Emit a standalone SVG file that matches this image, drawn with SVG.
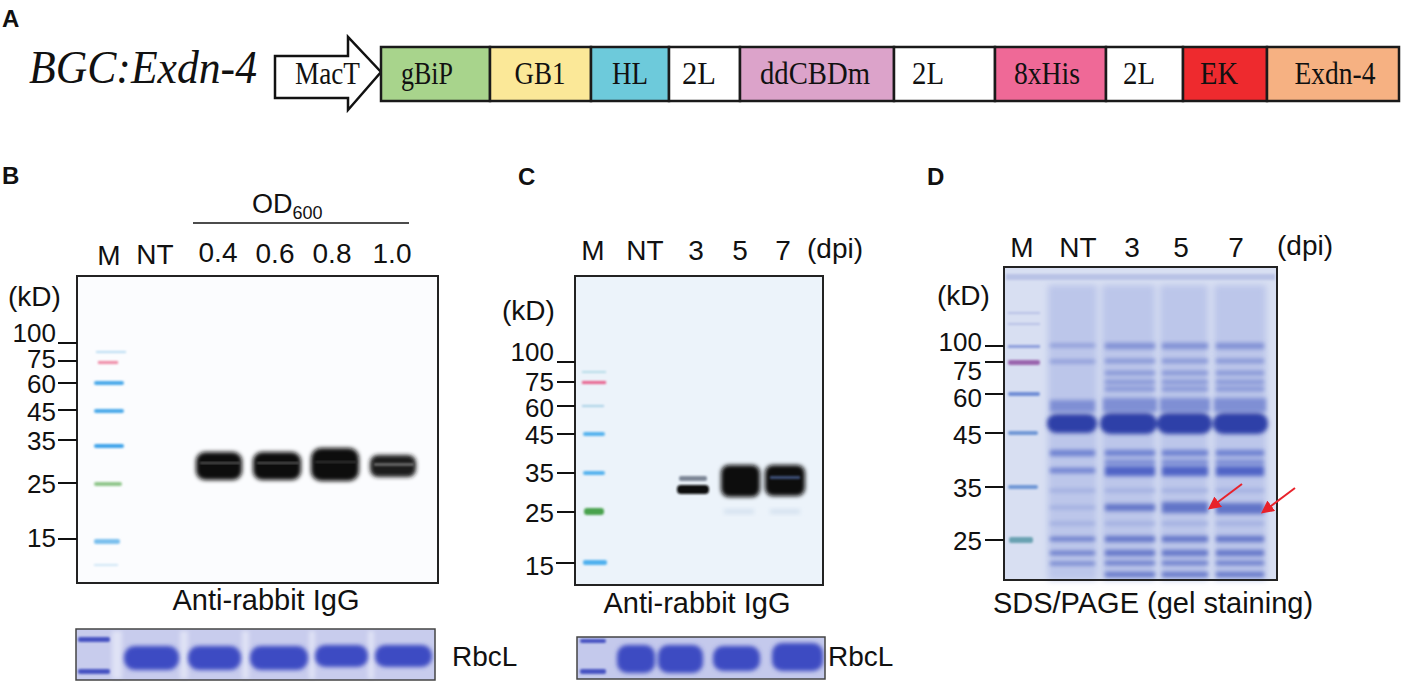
<svg xmlns="http://www.w3.org/2000/svg" width="1403" height="682" viewBox="0 0 1403 682">
<style>
.sans{font-family:"Liberation Sans",Arial,sans-serif;fill:#111}
.serif{font-family:"Liberation Serif","Times New Roman",serif;fill:#111}
.pl{font-family:"Liberation Sans",Arial,sans-serif;font-weight:bold;font-size:24px;fill:#111}
.lab{font-size:28px}
.tk{font-size:26px;text-anchor:end}
.box{stroke:#1a1a1a;stroke-width:2.5}
.bt{font-size:31px;text-anchor:middle}
.tick{stroke:#111;stroke-width:2}
.frame{stroke:#222;stroke-width:2}
</style>
<defs>
<filter id="b1" x="-20%" y="-50%" width="140%" height="200%"><feGaussianBlur stdDeviation="1"/></filter>
<filter id="b2" x="-20%" y="-50%" width="140%" height="200%"><feGaussianBlur stdDeviation="2"/></filter>
<filter id="b3" x="-20%" y="-50%" width="140%" height="200%"><feGaussianBlur stdDeviation="3"/></filter>
<marker id="ah" viewBox="0 0 10 10" refX="8" refY="5" markerWidth="6.5" markerHeight="6.5" orient="auto"><path d="M0,0 L10,5 L0,10 z" fill="#e8222b"/></marker>
</defs>

<!-- Panel A -->
<g id="panel-a">
<text class="pl" x="2" y="27">A</text>
<text class="serif" x="29" y="83" font-size="46" font-style="italic" textLength="228" lengthAdjust="spacingAndGlyphs">BGC:Exdn-4</text>
<g id="mact">
<polygon points="275,56 348,56 348,37 381,72 348,110 348,98 275,98" fill="#fff" stroke="#111" stroke-width="2.5" stroke-linejoin="miter"/>
<text class="serif" x="295" y="84" font-size="31" textLength="65" lengthAdjust="spacingAndGlyphs">MacT</text>
</g>
<g id="gbip"><rect class="box" x="381" y="47" width="109" height="54" fill="#a8d48c"/><text class="serif bt" x="427" y="84" textLength="52" lengthAdjust="spacingAndGlyphs">gBiP</text></g>
<g id="gb1"><rect class="box" x="490" y="47" width="101" height="54" fill="#fbe898"/><text class="serif bt" x="540" y="84" textLength="51" lengthAdjust="spacingAndGlyphs">GB1</text></g>
<g id="hl"><rect class="box" x="591" y="47" width="78" height="54" fill="#6dcadb"/><text class="serif bt" x="630" y="84" textLength="36" lengthAdjust="spacingAndGlyphs">HL</text></g>
<g id="l2a"><rect class="box" x="669" y="47" width="71" height="54" fill="#fff"/><text class="serif" x="682" y="84" font-size="31" textLength="34" lengthAdjust="spacingAndGlyphs">2L</text></g>
<g id="ddcbdm"><rect class="box" x="740" y="47" width="154" height="54" fill="#dca3ca"/><text class="serif bt" x="815" y="84" textLength="110" lengthAdjust="spacingAndGlyphs">ddCBDm</text></g>
<g id="l2b"><rect class="box" x="894" y="47" width="101" height="54" fill="#fff"/><text class="serif" x="912" y="84" font-size="31" textLength="32" lengthAdjust="spacingAndGlyphs">2L</text></g>
<g id="his"><rect class="box" x="995" y="47" width="111" height="54" fill="#ef6997"/><text class="serif bt" x="1047" y="84" textLength="66" lengthAdjust="spacingAndGlyphs">8xHis</text></g>
<g id="l2c"><rect class="box" x="1106" y="47" width="77" height="54" fill="#fff"/><text class="serif" x="1123" y="84" font-size="31" textLength="32" lengthAdjust="spacingAndGlyphs">2L</text></g>
<g id="ek"><rect class="box" x="1183" y="47" width="84" height="54" fill="#ee2a2e"/><text class="serif bt" x="1219" y="84" textLength="38" lengthAdjust="spacingAndGlyphs">EK</text></g>
<g id="exdn"><rect class="box" x="1267" y="47" width="132" height="54" fill="#f6b182"/><text class="serif bt" x="1335" y="84" textLength="81" lengthAdjust="spacingAndGlyphs">Exdn-4</text></g>
</g>

<!-- Panel B -->
<g id="panel-b">
<text class="pl" x="2" y="184">B</text>
<text class="sans" x="252" y="213" font-size="27">OD<tspan font-size="18" dy="6">600</tspan></text>
<line x1="193" y1="223" x2="409" y2="223" stroke="#111" stroke-width="1.5"/>
<g class="sans lab" text-anchor="middle">
<text x="109" y="265">M</text><text x="155" y="264">NT</text>
<text x="218" y="262">0.4</text><text x="275" y="263">0.6</text><text x="332" y="263">0.8</text><text x="392" y="263">1.0</text>
</g>
<text class="sans lab" x="8" y="306">(kD)</text>
<rect class="frame" x="77" y="276" width="361" height="307" fill="#fbfcfe"/>
<g class="sans tk">
<text x="56" y="342">100</text><text x="56" y="368">75</text><text x="56" y="393">60</text><text x="56" y="421">45</text><text x="56" y="450">35</text><text x="56" y="493">25</text><text x="56" y="547">15</text>
</g>
<g class="tick">
<line x1="58" y1="343" x2="77" y2="343"/><line x1="58" y1="361" x2="77" y2="361"/><line x1="58" y1="383" x2="77" y2="383"/><line x1="58" y1="410" x2="77" y2="410"/><line x1="58" y1="440" x2="77" y2="440"/><line x1="58" y1="483" x2="77" y2="483"/><line x1="58" y1="539" x2="77" y2="539"/>
</g>
<g id="b-marker" filter="url(#b1)">
<rect x="96" y="351" width="30" height="2" fill="#b9dcf2"/>
<rect x="98" y="361" width="20" height="3" fill="#ef8aa6"/>
<rect x="94" y="381" width="30" height="4" rx="2" fill="#4aa9ea"/>
<rect x="94" y="409" width="30" height="4" rx="2" fill="#4aa9ea"/>
<rect x="94" y="444" width="30" height="4" rx="2" fill="#3da3ea"/>
<rect x="94" y="482" width="28" height="4" rx="2" fill="#8fc68a"/>
<rect x="94" y="539" width="26" height="5" rx="2" fill="#7cc0ee"/>
<rect x="94" y="564" width="24" height="2" fill="#cfe6f6"/>
</g>
<g id="b-bands">
<rect x="196" y="452" width="46" height="28" rx="9" fill="#111" filter="url(#b2)"/>
<rect x="253" y="452" width="48" height="28" rx="9" fill="#111" filter="url(#b2)"/>
<rect x="311" y="448" width="48" height="33" rx="10" fill="#0a0a0a" filter="url(#b2)"/>
<rect x="370" y="455" width="46" height="22" rx="8" fill="#1c1c1c" filter="url(#b2)"/>
<rect x="200" y="462" width="40" height="2" fill="#555" filter="url(#b1)"/>
<rect x="257" y="462" width="42" height="2" fill="#555" filter="url(#b1)"/>
<rect x="315" y="461" width="42" height="2" fill="#333" filter="url(#b1)"/>
<rect x="374" y="463" width="40" height="3" fill="#666" filter="url(#b1)"/>
</g>
<text class="sans" x="266" y="610" font-size="29" text-anchor="middle">Anti-rabbit IgG</text>
<g id="b-rbcl">
<rect x="76" y="629" width="359" height="51" fill="#c8cced"/>
<g filter="url(#b2)" fill="#dfe2f5">
<rect x="112" y="631" width="10" height="48"/><rect x="180" y="631" width="8" height="48"/><rect x="242" y="631" width="7" height="48"/><rect x="309" y="631" width="6" height="48"/><rect x="368" y="631" width="6" height="48"/>
</g>
<g filter="url(#b1)" fill="#4652c2">
<rect x="78" y="637" width="32" height="5" rx="2"/><rect x="78" y="669" width="32" height="5" rx="2"/>
</g>
<g filter="url(#b2)" fill="#3d4cc3">
<rect x="124" y="646" width="55" height="24" rx="11"/><rect x="188" y="646" width="53" height="24" rx="11"/><rect x="250" y="646" width="58" height="24" rx="11"/><rect x="315" y="645" width="53" height="22" rx="10"/><rect x="375" y="645" width="57" height="22" rx="10"/>
</g>
<rect x="76" y="629" width="359" height="51" fill="none" stroke="#444" stroke-width="1.5"/>
</g>
<text class="sans lab" x="452" y="666">RbcL</text>
</g>

<!-- Panel C -->
<g id="panel-c">
<text class="pl" x="518" y="185">C</text>
<g class="sans lab" text-anchor="middle">
<text x="593" y="260">M</text><text x="645" y="260">NT</text><text x="696" y="260">3</text><text x="740" y="260">5</text><text x="783" y="260">7</text>
</g>
<text class="sans lab" x="807" y="258">(dpi)</text>
<text class="sans lab" x="502" y="320">(kD)</text>
<rect class="frame" x="575" y="276" width="248" height="309" fill="#ecf3fa"/>
<g class="sans tk">
<text x="554" y="361">100</text><text x="554" y="391">75</text><text x="554" y="417">60</text><text x="554" y="444">45</text><text x="554" y="482">35</text><text x="554" y="522">25</text><text x="554" y="575">15</text>
</g>
<g class="tick">
<line x1="557" y1="362" x2="575" y2="362"/><line x1="557" y1="382" x2="575" y2="382"/><line x1="557" y1="406" x2="575" y2="406"/><line x1="557" y1="434" x2="575" y2="434"/><line x1="557" y1="473" x2="575" y2="473"/><line x1="557" y1="512" x2="575" y2="512"/><line x1="556" y1="563" x2="575" y2="563"/>
</g>
<g id="c-marker" filter="url(#b1)">
<rect x="582" y="371" width="24" height="2" fill="#b5dbe8"/>
<rect x="582" y="381" width="24" height="3" fill="#e8608c"/>
<rect x="582" y="405" width="22" height="2" fill="#a8d0e6"/>
<rect x="583" y="432" width="22" height="4" rx="2" fill="#55b2ee"/>
<rect x="583" y="471" width="22" height="4" rx="2" fill="#55b2ee"/>
<rect x="584" y="508" width="20" height="7" rx="3" fill="#4aa24e"/>
<rect x="583" y="560" width="24" height="5" rx="2" fill="#4fb0ee"/>
</g>
<g id="c-bands">
<rect x="679" y="476" width="28" height="5" rx="2" fill="#7d8696" filter="url(#b1)"/>
<rect x="677" y="485" width="32" height="9" rx="4" fill="#111" filter="url(#b1)"/>
<rect x="721" y="465" width="39" height="32" rx="8" fill="#080808" filter="url(#b2)"/>
<rect x="765" y="465" width="40" height="31" rx="8" fill="#0a0a0a" filter="url(#b2)"/>
<rect x="770" y="476" width="30" height="3" fill="#3c5078" filter="url(#b1)"/>
<rect x="724" y="509" width="30" height="5" fill="#d5e2f0" filter="url(#b2)"/>
<rect x="770" y="509" width="30" height="5" fill="#d5e2f0" filter="url(#b2)"/>
</g>
<text class="sans" x="697" y="613" font-size="29" text-anchor="middle">Anti-rabbit IgG</text>
<g id="c-rbcl">
<rect x="577" y="637" width="248" height="42" fill="#c4c9ec"/>
<g filter="url(#b1)" fill="#4652c2">
<rect x="580" y="639" width="26" height="4" rx="2"/><rect x="580" y="669" width="26" height="5" rx="2"/>
</g>
<g filter="url(#b2)" fill="#3c4bc2">
<rect x="617" y="645" width="38" height="28" rx="10"/><rect x="658" y="645" width="45" height="28" rx="10"/><rect x="713" y="646" width="47" height="25" rx="10"/><rect x="772" y="643" width="51" height="28" rx="10"/>
</g>
<rect x="577" y="637" width="248" height="42" fill="none" stroke="#444" stroke-width="1.5"/>
</g>
<text class="sans lab" x="828" y="666">RbcL</text>
</g>

<!-- Panel D -->
<g id="panel-d">
<text class="pl" x="927" y="185">D</text>
<g class="sans lab" text-anchor="middle">
<text x="1022" y="257">M</text><text x="1078" y="257">NT</text><text x="1132" y="257">3</text><text x="1181" y="257">5</text><text x="1236" y="257">7</text>
</g>
<text class="sans lab" x="1277" y="255">(dpi)</text>
<text class="sans lab" x="937" y="305">(kD)</text>
<rect x="1004" y="267" width="273" height="313" fill="#d8dff2"/>
<g id="d-lanes" filter="url(#b3)" fill="#bcc6ea">
<rect x="1048" y="285" width="49" height="295"/><rect x="1102" y="285" width="53" height="295"/><rect x="1160" y="285" width="48" height="295"/><rect x="1214" y="285" width="52" height="295"/>
</g>
<rect x="1006" y="274" width="269" height="6" fill="#b9c3e6" filter="url(#b1)"/>
<g id="d-marker" filter="url(#b1)">
<rect x="1008" y="312" width="32" height="2" fill="#b7c0e6"/>
<rect x="1008" y="323" width="32" height="2" fill="#b7c0e6"/>
<rect x="1008" y="345" width="32" height="3" fill="#8e9fdc"/>
<rect x="1008" y="360" width="32" height="5" rx="2" fill="#9a65ad"/>
<rect x="1008" y="392" width="32" height="4" rx="2" fill="#6f8ed6"/>
<rect x="1008" y="431" width="30" height="4" rx="2" fill="#6f97d6"/>
<rect x="1008" y="485" width="30" height="4" rx="2" fill="#6f97d6"/>
<rect x="1009" y="537" width="24" height="6" rx="2" fill="#6aa2b2"/>
</g>
<g id="d-bands" filter="url(#b2)">
<g fill="#7f8fd4">
<rect x="1050" y="344" width="45" height="3"/><rect x="1105" y="343" width="50" height="6"/><rect x="1162" y="343" width="46" height="6"/><rect x="1216" y="343" width="48" height="6"/>
<rect x="1050" y="360" width="45" height="3"/><rect x="1105" y="359" width="50" height="4"/><rect x="1162" y="359" width="46" height="4"/><rect x="1216" y="359" width="48" height="4"/>
<rect x="1105" y="371" width="50" height="4"/><rect x="1162" y="371" width="46" height="4"/><rect x="1216" y="371" width="48" height="4"/>
<rect x="1105" y="380" width="50" height="4"/><rect x="1162" y="380" width="46" height="4"/><rect x="1216" y="380" width="48" height="4"/>
<rect x="1105" y="387" width="50" height="4"/><rect x="1162" y="387" width="46" height="4"/><rect x="1216" y="387" width="48" height="4"/>
<rect x="1050" y="400" width="45" height="12"/><rect x="1103" y="398" width="54" height="14"/><rect x="1160" y="398" width="50" height="14"/><rect x="1214" y="398" width="52" height="14"/>
</g>
<g fill="#2e40a8">
<rect x="1047" y="414" width="50" height="19" rx="9"/><rect x="1100" y="413" width="57" height="21" rx="10"/><rect x="1157" y="413" width="55" height="21" rx="10"/><rect x="1213" y="413" width="55" height="21" rx="10"/>
</g>
<g fill="#6c7fd0">
<rect x="1050" y="450" width="45" height="6"/><rect x="1105" y="450" width="50" height="6"/><rect x="1162" y="450" width="46" height="6"/><rect x="1216" y="450" width="48" height="6"/>
<rect x="1105" y="460" width="50" height="4"/><rect x="1162" y="460" width="46" height="4"/><rect x="1216" y="460" width="48" height="4"/>
<rect x="1050" y="468" width="45" height="5"/>
</g>
<g fill="#5063c6">
<rect x="1105" y="466" width="50" height="10"/><rect x="1162" y="466" width="46" height="10"/><rect x="1216" y="466" width="48" height="10"/>
</g>
<g fill="#9aa8de">
<rect x="1050" y="489" width="45" height="3"/><rect x="1105" y="489" width="50" height="3"/><rect x="1162" y="489" width="46" height="3"/><rect x="1216" y="489" width="48" height="3"/>
<rect x="1050" y="506" width="45" height="3"/>
<rect x="1050" y="522" width="45" height="3"/><rect x="1105" y="522" width="50" height="3"/><rect x="1162" y="522" width="46" height="3"/><rect x="1216" y="522" width="48" height="3"/>
</g>
<g fill="#6274c8">
<rect x="1105" y="504" width="50" height="7"/><rect x="1162" y="502" width="46" height="11"/><rect x="1216" y="503" width="48" height="11"/>
</g>
<g fill="#6274c8">
<rect x="1050" y="537" width="45" height="4"/><rect x="1105" y="536" width="50" height="6"/><rect x="1162" y="536" width="46" height="6"/><rect x="1216" y="536" width="48" height="6"/>
<rect x="1050" y="551" width="45" height="4"/><rect x="1105" y="550" width="50" height="6"/><rect x="1162" y="550" width="46" height="6"/><rect x="1216" y="550" width="48" height="6"/>
<rect x="1050" y="562" width="45" height="3"/><rect x="1105" y="561" width="50" height="4"/><rect x="1162" y="561" width="46" height="4"/><rect x="1216" y="561" width="48" height="4"/>
<rect x="1105" y="572" width="50" height="5"/><rect x="1162" y="572" width="46" height="5"/><rect x="1216" y="572" width="48" height="5"/>
</g>
</g>
<rect class="frame" x="1004" y="267" width="273" height="313" fill="none"/>
<g class="sans tk">
<text x="982" y="351">100</text><text x="982" y="380">75</text><text x="982" y="407">60</text><text x="982" y="444">45</text><text x="982" y="497">35</text><text x="982" y="550">25</text>
</g>
<g class="tick">
<line x1="985" y1="346" x2="1004" y2="346"/><line x1="985" y1="362" x2="1004" y2="362"/><line x1="985" y1="394" x2="1004" y2="394"/><line x1="985" y1="433" x2="1004" y2="433"/><line x1="985" y1="487" x2="1004" y2="487"/><line x1="985" y1="540" x2="1004" y2="540"/>
</g>
<text class="sans" x="1153" y="613" font-size="29" text-anchor="middle">SDS/PAGE (gel staining)</text>
</g>

<g id="connectors" stroke="#e8222b" stroke-width="2" fill="none">
<line x1="1242" y1="484" x2="1210" y2="508" marker-end="url(#ah)"/>
<line x1="1295" y1="488" x2="1263" y2="512" marker-end="url(#ah)"/>
</g>
</svg>
